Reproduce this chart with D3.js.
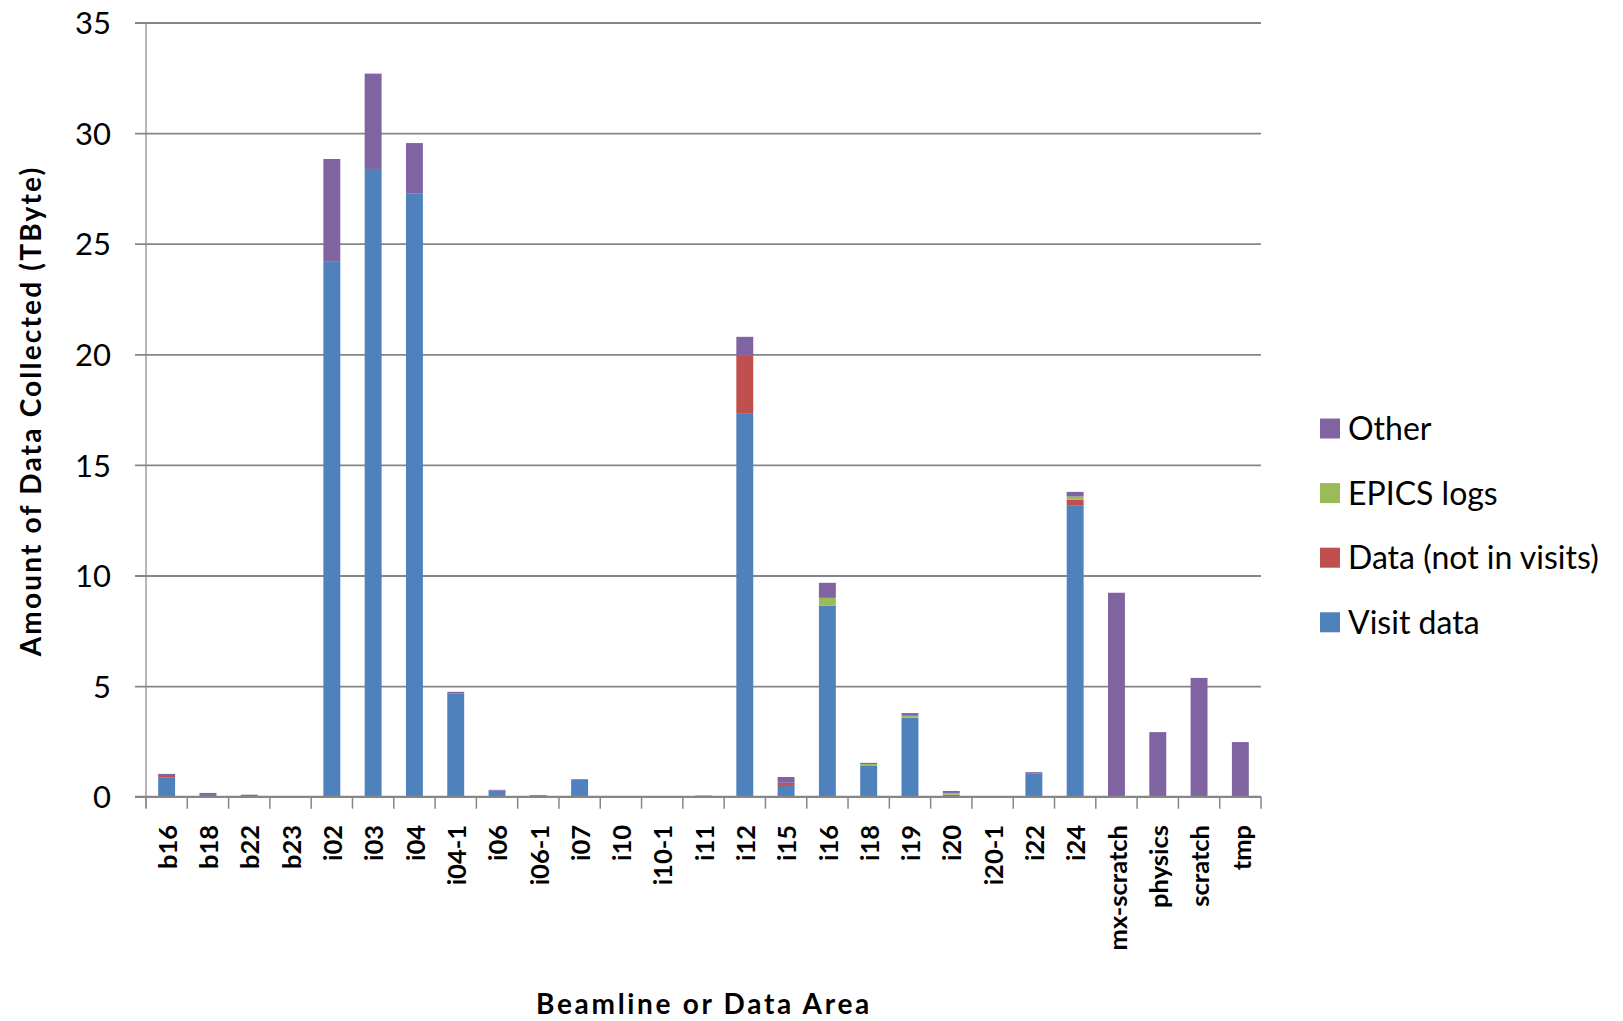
<!DOCTYPE html>
<html>
<head>
<meta charset="utf-8">
<script src="https://cdn.jsdelivr.net/npm/d3@7"></script>
<style>
  html, body { margin: 0; padding: 0; background: #fff; }
  svg { display: block; }
  text { font-family: Lato, "Open Sans", sans-serif; fill: #000; }
</style>
</head>
<body>
<script>
const categories = ["b16","b18","b22","b23","i02","i03","i04","i04-1","i06","i06-1","i07","i10","i10-1","i11","i12","i15","i16","i18","i19","i20","i20-1","i22","i24","mx-scratch","physics","scratch","tmp"];
const visitData       = [0.88,0.08,0.02,0,24.18,28.38,27.26,4.67,0.27,0.02,0.77,0,0,0,17.34,0.53,8.63,1.39,3.57,0.09,0,1.04,13.18,0,0,0,0];
const dataNotInVisits = [0.10,0,0,0,0,0,0,0,0,0,0,0,0,0,2.62,0.10,0,0,0,0,0,0,0.24,0,0,0,0];
const epicsLogs       = [0,0,0,0,0,0,0,0,0,0,0,0,0,0,0,0,0.36,0.09,0.09,0.08,0,0,0.15,0,0,0,0];
const other           = [0.05,0.09,0.07,0,4.65,4.31,2.29,0.07,0.04,0.05,0.03,0,0,0.05,0.83,0.26,0.68,0.05,0.12,0.09,0,0.07,0.21,9.22,2.92,5.37,2.47];
const seriesNames = ["Visit data","Data (not in visits)","EPICS logs","Other"];
const seriesColors = ["#4F81BD","#C0504D","#9BBB59","#8064A2"];
const yTicks = [0,5,10,15,20,25,30,35];
const yTitle = "Amount of Data Collected (TByte)";
const xTitle = "Beamline or Data Area";

(function () {
const W = 1623, H = 1021;
const pLeft = 146, pRight = 1261, pTop = 22.5, pBottom = 796.7;

const svg = d3.select("body").append("svg").attr("width", W).attr("height", H);

const x = d3.scaleBand().domain(categories).range([pLeft, pRight]).paddingInner(0.59).paddingOuter(0.295);
const y = d3.scaleLinear().domain([0, 35]).range([pBottom, pTop]);

const rows = categories.map((c, i) => ({
  cat: c,
  "Visit data": visitData[i],
  "Data (not in visits)": dataNotInVisits[i],
  "EPICS logs": epicsLogs[i],
  "Other": other[i]
}));
const stacked = d3.stack().keys(seriesNames)(rows);

// gridlines + y axis
const yAxis = d3.axisLeft(y).tickValues(yTicks).tickSize(11).tickSizeOuter(0).tickPadding(25);
const gy = svg.append("g").attr("transform", `translate(${pLeft},0)`).call(yAxis);
gy.select(".domain").attr("stroke", "#868686").attr("stroke-width", 1.2).attr("d", `M0,${pTop}V${pBottom + 11.5}`);
gy.selectAll(".tick line").attr("stroke", "#868686").attr("stroke-width", 1.8)
  .attr("x1", -11).attr("x2", pRight - pLeft);
gy.selectAll(".tick text").style("font-size", "31px").style("font-family", "Lato, sans-serif").attr("fill", "#000")
  .attr("x", 111 - pLeft).attr("dy", "0.36em");

// bars
svg.append("g").selectAll("g").data(stacked).join("g")
  .attr("fill", (d, i) => seriesColors[i])
  .selectAll("rect").data(d => d).join("rect")
  .attr("x", d => x(d.data.cat))
  .attr("width", x.bandwidth())
  .attr("y", d => y(d[1]))
  .attr("height", d => Math.max(0, y(d[0]) - y(d[1])));

// x axis
const step = x.step();
const gx = svg.append("g");
gx.append("line").attr("x1", pLeft - 11).attr("x2", pRight).attr("y1", pBottom).attr("y2", pBottom)
  .attr("stroke", "#868686").attr("stroke-width", 2);
const boundaries = d3.range(categories.length + 1).map(i => pLeft + i * step);
gx.selectAll("line.tk").data(boundaries).join("line").attr("class", "tk")
  .attr("x1", d => d).attr("x2", d => d).attr("y1", pBottom).attr("y2", pBottom + 12)
  .attr("stroke", "#868686").attr("stroke-width", 1.5);
gx.selectAll("text.lbl").data(categories).join("text").attr("class", "lbl")
  .attr("transform", d => `translate(${x(d) + x.bandwidth() / 2 + 1},825) rotate(-90)`)
  .attr("text-anchor", "end").attr("dy", "0.36em")
  .style("font-size", "25.5px").style("font-weight", "bold")
  .text(d => d);

// axis titles
svg.append("text").attr("x", 704).attr("y", 1014).attr("text-anchor", "middle")
  .style("font-size", "28px").style("font-weight", "bold").style("letter-spacing", "2.7px")
  .text(xTitle);
svg.append("text").attr("transform", "translate(41,411) rotate(-90)").attr("text-anchor", "middle")
  .style("font-size", "28px").style("font-weight", "bold").style("letter-spacing", "2.2px")
  .text(yTitle);

// legend
const legendOrder = [3, 2, 1, 0];
const lg = svg.append("g");
legendOrder.forEach((si, k) => {
  const cy = 428.5 + k * 64.6;
  lg.append("rect").attr("x", 1320).attr("y", cy - 10).attr("width", 20).attr("height", 20).attr("fill", seriesColors[si]);
  lg.append("text").attr("x", 1348).attr("y", cy).attr("dy", "0.36em").style("font-size", "32px").text(seriesNames[si]);
});
})();
</script>
</body>
</html>
